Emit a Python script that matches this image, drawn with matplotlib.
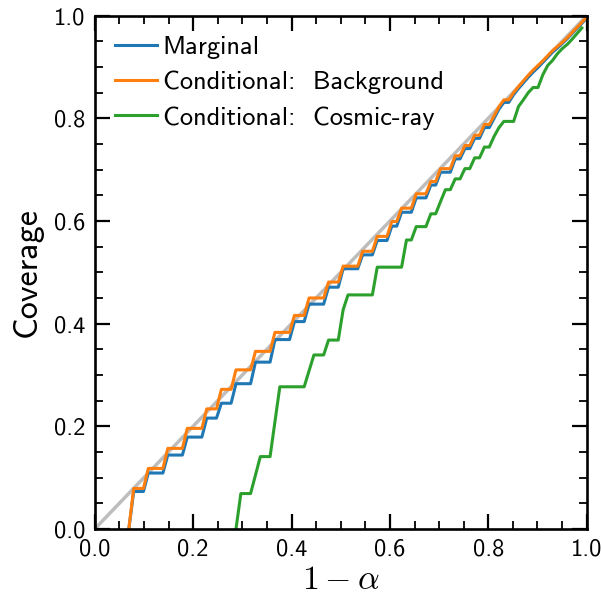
import numpy as np
import matplotlib
matplotlib.use("Agg")
import matplotlib.pyplot as plt
from matplotlib.ticker import MultipleLocator

nan = np.nan

# Nominal coverage levels 1 - alpha
one_minus_alpha = np.linspace(0.0, 1.0, 102)

# Empirical coverage: marginal over all pixels
cov_marginal = [
    nan, nan, nan, nan, nan, nan, nan, 0.000, 0.073, 0.073,
    0.073, 0.109, 0.109, 0.109, 0.109, 0.144, 0.144, 0.144, 0.144, 0.179,
    0.179, 0.179, 0.179, 0.216, 0.216, 0.216, 0.245, 0.245, 0.245, 0.283,
    0.283, 0.283, 0.283, 0.325, 0.325, 0.325, 0.325, 0.369, 0.369, 0.369,
    0.369, 0.404, 0.404, 0.404, 0.438, 0.438, 0.438, 0.438, 0.471, 0.471,
    0.471, 0.507, 0.507, 0.507, 0.507, 0.534, 0.534, 0.534, 0.562, 0.562,
    0.562, 0.590, 0.590, 0.617, 0.617, 0.617, 0.645, 0.645, 0.645, 0.670,
    0.670, 0.695, 0.695, 0.695, 0.721, 0.721, 0.741, 0.741, 0.761, 0.761,
    0.782, 0.782, 0.800, 0.818, 0.831, 0.831, 0.846, 0.858, 0.869, 0.880,
    0.890, 0.899, 0.909, 0.919, 0.929, 0.937, 0.946, 0.955, 0.965, 0.975,
    0.985, 0.995,
]

# Class-conditional coverage: background pixels
cov_background = [
    nan, nan, nan, nan, nan, nan, nan, 0.000, 0.079, 0.079,
    0.079, 0.118, 0.118, 0.118, 0.118, 0.157, 0.157, 0.157, 0.157, 0.196,
    0.196, 0.196, 0.196, 0.234, 0.234, 0.234, 0.272, 0.272, 0.272, 0.310,
    0.310, 0.310, 0.310, 0.346, 0.346, 0.346, 0.346, 0.383, 0.383, 0.383,
    0.383, 0.416, 0.416, 0.416, 0.450, 0.450, 0.450, 0.450, 0.481, 0.481,
    0.481, 0.512, 0.512, 0.512, 0.512, 0.541, 0.541, 0.541, 0.570, 0.570,
    0.570, 0.599, 0.599, 0.625, 0.625, 0.625, 0.653, 0.653, 0.653, 0.677,
    0.677, 0.702, 0.702, 0.702, 0.727, 0.727, 0.747, 0.747, 0.767, 0.767,
    0.788, 0.788, 0.805, 0.823, 0.836, 0.836, 0.850, 0.862, 0.873, 0.884,
    0.894, 0.903, 0.912, 0.922, 0.932, 0.940, 0.948, 0.957, 0.967, 0.977,
    0.987, 0.997,
]

# Class-conditional coverage: cosmic-ray pixels
cov_cosmic = [
    nan, nan, nan, nan, nan, nan, nan, nan, nan, nan,
    nan, nan, nan, nan, nan, nan, nan, nan, nan, nan,
    nan, nan, nan, nan, nan, nan, nan, nan, nan, 0.000,
    0.069, 0.069, 0.069, 0.105, 0.141, 0.141, 0.141, 0.209, 0.277, 0.277,
    0.277, 0.277, 0.277, 0.277, 0.308, 0.339, 0.339, 0.339, 0.368, 0.368,
    0.368, 0.427, 0.456, 0.456, 0.456, 0.456, 0.456, 0.456, 0.510, 0.510,
    0.510, 0.510, 0.510, 0.510, 0.563, 0.563, 0.589, 0.589, 0.589, 0.614,
    0.614, 0.638, 0.661, 0.661, 0.682, 0.682, 0.702, 0.702, 0.723, 0.723,
    0.744, 0.744, 0.765, 0.782, 0.794, 0.794, 0.794, 0.823, 0.836, 0.850,
    0.860, 0.860, 0.885, 0.903, 0.913, 0.926, 0.936, 0.944, 0.954, 0.965,
    0.976, nan,
]

labels = ["Marginal", "Conditional:  Background", "Conditional:  Cosmic-ray"]
colors = ["#1f77b4", "#ff7f0e", "#2ca02c"]

plt.rcParams["font.family"] = ["cmss10", "DejaVu Sans"]
plt.rcParams["mathtext.fontset"] = "cm"
plt.rcParams["axes.unicode_minus"] = False
plt.rcParams["axes.formatter.use_mathtext"] = False

fig = plt.figure(figsize=(6.01, 6.02), dpi=100)
ax = fig.add_axes([0.1576, 0.1213, 0.8186, 0.8527])

# ideal calibration line
ax.plot([0, 1], [0, 1], color="#9a9a9a", alpha=0.65, lw=2.5, zorder=1)

for y, lab, c in zip([cov_marginal, cov_background, cov_cosmic], labels, colors):
    ax.plot(one_minus_alpha, y, color=c, lw=2.2, label=lab, zorder=2)

ax.set_xlim(0, 1.0)
ax.set_ylim(0, 1.0)
ax.xaxis.set_major_locator(MultipleLocator(0.2))
ax.yaxis.set_major_locator(MultipleLocator(0.2))
ax.xaxis.set_minor_locator(MultipleLocator(0.05))
ax.yaxis.set_minor_locator(MultipleLocator(0.05))
ax.xaxis.set_major_formatter(plt.FormatStrFormatter("%.1f"))
ax.yaxis.set_major_formatter(plt.FormatStrFormatter("%.1f"))

ax.tick_params(which="both", direction="in", top=True, right=True, labelsize=17.6)
ax.tick_params(which="major", length=11, width=1.6, pad=7)
ax.tick_params(which="minor", length=5.5, width=1.3)
for s in ax.spines.values():
    s.set_linewidth(1.9)

ax.set_xlabel(r"$\mathsf{1}-\alpha$", fontsize=24.5, labelpad=3)
ax.set_ylabel("Coverage", fontsize=24.5, labelpad=8)

ax.legend(loc="upper left", frameon=False, fontsize=19, handlelength=1.6,
          handletextpad=0.22, labelspacing=0.45, borderaxespad=0.35)

fig.savefig("out.png", dpi=100)
